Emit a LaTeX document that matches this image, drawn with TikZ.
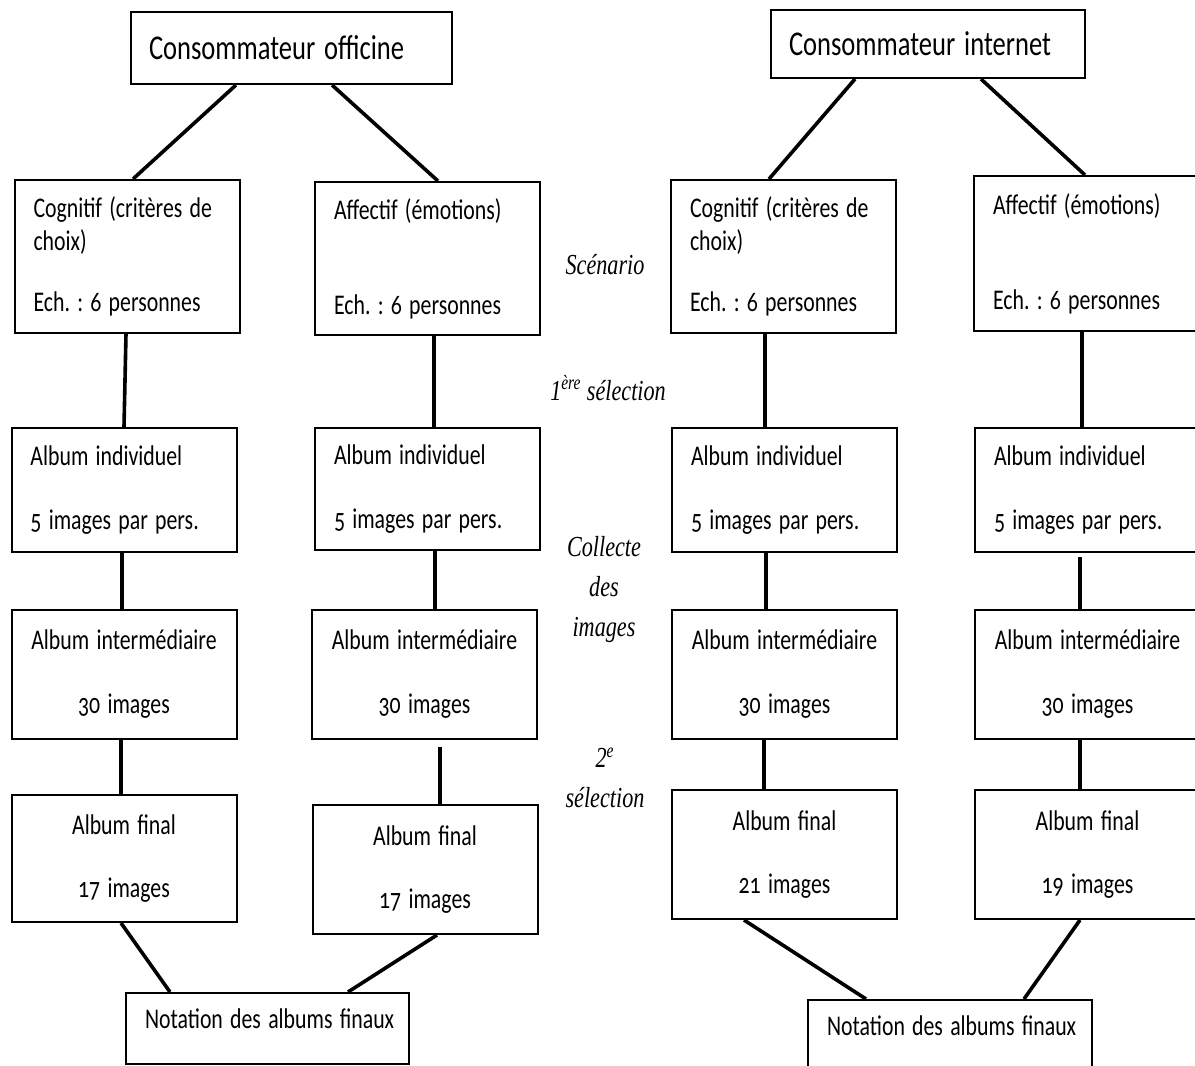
\documentclass[tikz,border=0pt]{standalone}
\usepackage{graphicx}
\usepackage{fontspec}
\setmainfont[Numbers=OldStyle]{Carlito}
\newfontfamily\etiqfont{Liberation Serif}
\usetikzlibrary{calc}
\frenchspacing
% texte etroit
\newcommand\etr[1]{\scalebox{0.765}[1]{#1}}
\newcommand\esp{\spaceskip=.19em plus .1em minus .05em\relax}

\begin{document}
\begin{tikzpicture}[x=0.5pt, y=-0.5pt,
	boite/.style={draw, line width=1pt, inner xsep=9.5pt, text width=93.5pt, align=left, font=\fontsize{14.25pt}{16.5pt}\selectfont\esp},
	titre/.style={draw, line width=1pt, inner xsep=9pt, align=left, font=\fontsize{17.35pt}{20pt}\selectfont\esp},
	etiq/.style={font=\etiqfont\itshape\fontsize{14.5pt}{20pt}\selectfont},
	lien/.style={line width=1.8pt}]
	\useasboundingbox (0,0) rectangle (1195,1066);

	% consommateurs
	\node[titre, text width=142.5pt, minimum height=36pt] (titO) at (291.5,48) {\etr{Consommateur officine}};
	\node[titre, text width=139pt, minimum height=34pt] (titI) at (928,44) {\etr{Consommateur internet}};

	% scenario
	\node[boite, minimum height=76.5pt] (oc1) at (127,256.5) {\etr{Cognitif (critères de}\\\etr{choix)}\\[14pt]\etr{Ech. : 6 personnes}};
	\node[boite, minimum height=76.5pt] (oa1) at (427.5,258.5) {\etr{Affectif (émotions)}\\[31pt]\etr{Ech. : 6 personnes}};
	\node[boite, minimum height=76.5pt] (ic1) at (783.5,256.5) {\etr{Cognitif (critères de}\\\etr{choix)}\\[14pt]\etr{Ech. : 6 personnes}};
	\node[boite, minimum height=77.5pt] (ia1) at (1086.5,253.5) {\etr{Affectif (émotions)}\\[31pt]\etr{Ech. : 6 personnes}};

	% albums individuels
	\node[boite, minimum height=62pt] (oc2) at (124,490) {\etr{Album individuel}\\[15.5pt]\etr{5 images par pers.}};
	\node[boite, minimum height=61pt] (oa2) at (427.5,489) {\etr{Album individuel}\\[15.5pt]\etr{5 images par pers.}};
	\node[boite, minimum height=62pt] (ic2) at (784.5,490) {\etr{Album individuel}\\[15.5pt]\etr{5 images par pers.}};
	\node[boite, minimum height=62pt] (ia2) at (1087.5,490) {\etr{Album individuel}\\[15.5pt]\etr{5 images par pers.}};

	% albums intermediaires
	\node[boite, align=center, minimum height=64.5pt] (oc3) at (124,674.5) {\etr{Album intermédiaire}\\[15.5pt]\etr{30 images}};
	\node[boite, align=center, minimum height=64.5pt] (oa3) at (424.5,674.5) {\etr{Album intermédiaire}\\[15.5pt]\etr{30 images}};
	\node[boite, align=center, minimum height=64.5pt] (ic3) at (784.5,674.5) {\etr{Album intermédiaire}\\[15.5pt]\etr{30 images}};
	\node[boite, align=center, minimum height=64.5pt] (ia3) at (1087.5,674.5) {\etr{Album intermédiaire}\\[15.5pt]\etr{30 images}};

	% albums finaux
	\node[boite, align=center, minimum height=63.5pt] (oc4) at (124,858.5) {\etr{Album final}\\[15pt]\etr{17 images}};
	\node[boite, align=center, minimum height=64.5pt] (oa4) at (425,869.5) {\etr{Album final}\\[15pt]\etr{17 images}};
	\node[boite, align=center, minimum height=64.5pt] (ic4) at (784.5,854.5) {\etr{Album final}\\[15pt]\etr{21 images}};
	\node[boite, align=center, minimum height=64.5pt] (ia4) at (1087.5,854.5) {\etr{Album final}\\[15pt]\etr{19 images}};

	% notation
	\node[boite, align=center, text width=122.5pt, text depth=10pt, minimum height=35.5pt] (notO) at (267.5,1028.5) {\etr{Notation des albums finaux}};
	\node[boite, align=center, text width=123pt, text depth=10pt, minimum height=35.5pt] (notI) at (950,1035.5) {\etr{Notation des albums finaux}};

	% etapes
	\node[etiq] (scen) at (605,265) {\etr{Scénario}};
	\node[etiq] (sel1) at (608,388) {\etr{1\textsuperscript{ère} sélection}};
	\node[etiq, align=center] (coll) at (604,590) {\etr{Collecte}\\\etr{des}\\\etr{images}};
	\node[etiq, align=center] (sel2) at (605,778) {\etr{2\textsuperscript{e}}\\\etr{sélection}};

	\foreach \from/\dxa/\to/\dxb in {titO/-55.5/oc1/6, titO/40.5/oa1/10.5, titI/-73/ic1/-14.5, titI/53/ia1/-1.5,
			oc1/-1/oc2/0, oc2/-2/oc3/-2, oc3/-3/oc4/-3,
			oa1/6.5/oa2/6.5, oa2/7.5/oa3/10.5,
			ic1/-18.5/ic2/-19.5, ic2/-18.5/ic3/-18.5, ic3/-20.5/ic4/-20.5,
			ia1/-4.5/ia2/-5.5, ia3/-7.5/ia4/-7.5,
			oc4/-3/notO/-97.5, oa4/12/notO/80.5, ic4/-40.5/notI/-84, ia4/-7.5/notI/74} {
		\draw[lien] ($(\from.south)+(\dxa,0)$) -- ($(\to.north)+(\dxb,0)$);
	}
	\draw[lien, shorten <=3.5pt] ($(oa3.south)+(15.5,0)$) -- ($(oa4.north)+(15,0)$);
	\draw[lien, shorten <=2pt] ($(ia2.south)+(-7.5,0)$) -- ($(ia3.north)+(-7.5,0)$);
\end{tikzpicture}
\end{document}
